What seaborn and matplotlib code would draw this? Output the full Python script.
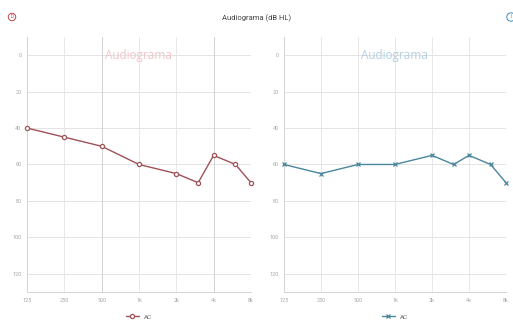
import matplotlib
matplotlib.use("Agg")
import matplotlib.pyplot as plt
import seaborn as sns
import pandas as pd

# datos del audiograma
freqs = [125, 250, 500, 1000, 2000, 3000, 4000, 6000, 8000]
tick_freqs = [125, 250, 500, 1000, 2000, 4000, 8000]
tick_labels = ["125", "250", "500", "1k", "2k", "4k", "8k"]
db_ticks = [0, 20, 40, 60, 80, 100, 120]
derecho = [40, 45, 50, 60, 65, 70, 55, 60, 70]
izquierdo = [60, 65, 60, 60, 55, 60, 55, 60, 70]

sns.set_style("white")
plt.rcParams["font.family"] = ["Roboto", "DejaVu Sans"]

fig = plt.figure(figsize=(5.13, 3.22), dpi=100)
ax_d = fig.add_axes([0.0526, 0.0932, 0.4366, 0.792])
ax_i = fig.add_axes([0.5536, 0.0932, 0.4327, 0.792])

config = [
    (ax_d, derecho, "#9e5257", "o", "#efc3ca"),
    (ax_i, izquierdo, "#4a879c", "x", "#b3cedf"),
]

for ax, vals, color, mk, wm in config:
    df = pd.DataFrame({"freq": freqs, "db": vals})
    ax.set_xscale("log", base=2)
    sns.lineplot(data=df, x="freq", y="db", ax=ax, color=color, marker=mk,
                 markersize=3 if mk == "o" else 3.2,
                 markerfacecolor="white" if mk == "o" else color,
                 markeredgecolor=color, markeredgewidth=0.9,
                 linewidth=1.0, label="AC", clip_on=False, zorder=3)
    ax.set_xlim(125, 8000)
    ax.set_ylim(130, -10)
    ax.set_xticks(tick_freqs)
    ax.set_xticklabels(tick_labels)
    ax.minorticks_off()
    ax.set_yticks(db_ticks)
    ax.set_xlabel("")
    ax.set_ylabel("")
    ax.tick_params(labelsize=4, colors="#a8a8a8", length=0, pad=4)
    for f in tick_freqs:
        ax.axvline(f, color="#e8e8e8", lw=0.7, zorder=0)
    for d in db_ticks:
        ax.axhline(d, color="#e4e4e4", lw=0.7, zorder=0)
    for s in ["top", "right"]:
        ax.spines[s].set_visible(False)
    for s in ["left", "bottom"]:
        ax.spines[s].set_color("#d6d6d6")
        ax.spines[s].set_linewidth(0.7)
    ax.text(0.5, (130 - 0) / 140, "Audiograma", transform=ax.transAxes,
            ha="center", va="center", fontsize=8.5, color=wm, zorder=1,
            family=["Open Sans", "DejaVu Sans"])
    ax.legend(loc="center", bbox_to_anchor=(0.5, -0.098), frameon=False,
              fontsize=4.5, handlelength=2.2, labelcolor="#666666")

# lineas mas marcadas en 500 y 4k del oido derecho
for f in [500, 4000]:
    ax_d.axvline(f, color="#d2d2d2", lw=0.7, zorder=0)

fig.text(0.5, 1 - 18 / 322, "Audiograma (dB HL)", ha="center", va="center",
         fontsize=5.5, color="#444444")
fig.text(12 / 513, 1 - 17 / 322, "D", ha="center", va="center", fontsize=3.5,
         color="#c0454f", bbox=dict(boxstyle="circle,pad=0.25", fc="white",
                                    ec="#c0454f", lw=0.7))
fig.text(511 / 513, 1 - 17 / 322, "I", ha="center", va="center", fontsize=3.5,
         color="#3d8fc0", bbox=dict(boxstyle="circle,pad=0.35", fc="white",
                                    ec="#3d8fc0", lw=0.7))

fig.savefig("out.png", dpi=100)
